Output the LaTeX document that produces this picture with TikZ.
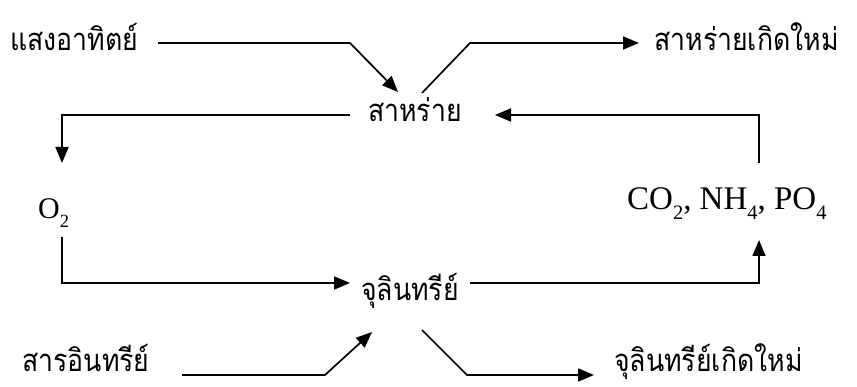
\documentclass[tikz,border=0pt]{standalone}
\usepackage{fontspec}
\setmainfont{Liberation Serif}
\newfontfamily\thaifont[Script=Thai,FakeStretch=0.86]{Loma}
\usetikzlibrary{arrows.meta}
\newcommand{\subsc}[1]{\raisebox{-0.28em}{\fontsize{0.62\fontdimen6\font}{10}\selectfont #1}}
\begin{document}
\begin{tikzpicture}[x=1pt,y=-1pt,
  thl/.style={inner sep=0pt, font=\thaifont\fontsize{31}{31}\selectfont},
  lat/.style={inner sep=0pt, font=\fontsize{30}{30}\selectfont},
  latb/.style={inner sep=0pt, font=\fontsize{33}{33}\selectfont},
  conn/.style={line width=1.7pt, -{Triangle[length=16pt,width=13pt]}},
  ]
\useasboundingbox (0,0) rectangle (857,387);
\node[thl, anchor=base west] (sun) at (10,51) {แสงอาทิตย์};
\node[thl, anchor=base] (algae) at (415,122) {สาหร่าย};
\node[thl, anchor=base west] (newalgae) at (654,51) {สาหร่ายเกิดใหม่};
\node[lat, anchor=base west] (o2) at (38,219) {O\subsc{2}};
\node[latb, anchor=base west] (co2) at (627,210) {CO\subsc{2}, NH\subsc{4}, PO\subsc{4}};
\node[thl, anchor=base] (micro) at (410,301) {จุลินทรีย์};
\node[thl, anchor=base west] (organic) at (22,371) {สารอินทรีย์};
\node[thl, anchor=base west] (newmicro) at (614,371) {จุลินทรีย์เกิดใหม่};

\coordinate (s0) at (158,43);
\coordinate (s1) at (350,43);
\coordinate (s2) at (398,92);
\draw[conn] (s0) -- (s1) -- (s2);

\coordinate (a0) at (422,93);
\coordinate (a1) at (470,43);
\coordinate (a2) at (639,43);
\draw[conn] (a0) -- (a1) -- (a2);

\coordinate (b0) at (350,115);
\coordinate (b1) at (62,115);
\coordinate (b2) at (62,163);
\draw[conn] (b0) -- (b1) -- (b2);

\coordinate (c0) at (759,163);
\coordinate (c1) at (759,115);
\coordinate (c2) at (495,115);
\draw[conn] (c0) -- (c1) -- (c2);

\coordinate (d0) at (62,237);
\coordinate (d1) at (62,283);
\coordinate (d2) at (350,283);
\draw[conn] (d0) -- (d1) -- (d2);

\coordinate (e0) at (470,283);
\coordinate (e1) at (759,283);
\coordinate (e2) at (759,240);
\draw[conn] (e0) -- (e1) -- (e2);

\coordinate (f0) at (182,375);
\coordinate (f1) at (325,375);
\coordinate (f2) at (372,332);
\draw[conn] (f0) -- (f1) -- (f2);

\coordinate (g0) at (422,330);
\coordinate (g1) at (467,375);
\coordinate (g2) at (594,375);
\draw[conn] (g0) -- (g1) -- (g2);
\end{tikzpicture}
\end{document}
